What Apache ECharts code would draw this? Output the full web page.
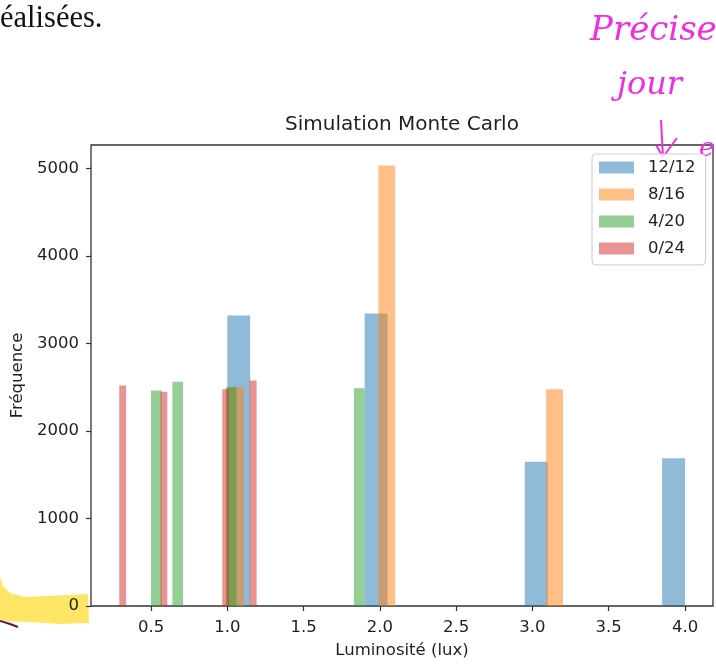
<!DOCTYPE html>
<html>
<head>
<meta charset="utf-8">
<script src="https://cdn.jsdelivr.net/npm/echarts@6/dist/echarts.min.js"></script>
<style>
  html, body { margin: 0; padding: 0; background: #ffffff; }
  #chart { width: 716px; height: 664px; }
</style>
</head>
<body>
<div id="chart"></div>
<script>
// ---- Data (histogram bins: start, end, count) ----
const seriesNames = ['12/12', '8/16', '4/20', '0/24'];

const blueStarts = [1.00, 1.90, 2.95, 3.85];
const blueEnds   = [1.15, 2.05, 3.10, 4.00];
const blueCounts = [3320, 3345, 1648, 1690];

const orangeStarts = [1.00, 1.99, 3.09];
const orangeEnds   = [1.11, 2.10, 3.20];
const orangeCounts = [2500, 5035, 2478];

const greenStarts = [0.50, 0.64, 0.99, 1.83];
const greenEnds   = [0.57, 0.71, 1.06, 1.90];
const greenCounts = [2464, 2563, 2502, 2490];

const redStarts = [0.292, 0.562, 0.967, 1.147];
const redEnds   = [0.337, 0.607, 1.012, 1.192];
const redCounts = [2521, 2449, 2479, 2578];

const xTicks = [0.5, 1.0, 1.5, 2.0, 2.5, 3.0, 3.5, 4.0];
const yTicks = [0, 1000, 2000, 3000, 4000, 5000];

// ---- Styling ----
const colors = ['rgba(31,119,180,0.5)', 'rgba(255,127,14,0.5)', 'rgba(44,160,44,0.5)', 'rgba(214,39,40,0.5)'];
const FONT = 'DejaVu Sans';
const TXT = '#1f1f1f';
const SPINE = '#333333';
const INK = '#f02ee0';

function toRows(starts, ends, counts) {
  return starts.map((s, i) => [s, ends[i], counts[i]]);
}
const allData = [
  toRows(blueStarts, blueEnds, blueCounts),
  toRows(orangeStarts, orangeEnds, orangeCounts),
  toRows(greenStarts, greenEnds, greenCounts),
  toRows(redStarts, redEnds, redCounts)
];

function renderHist(params, api) {
  const top = api.coord([api.value(0), api.value(2)]);
  const bottom = api.coord([api.value(1), 0]);
  return {
    type: 'rect',
    shape: { x: top[0], y: top[1], width: bottom[0] - top[0], height: bottom[1] - top[1] },
    style: api.style()
  };
}

const chart = echarts.init(document.getElementById('chart'), null, { renderer: 'canvas' });

const option = {
  animation: false,
  backgroundColor: '#ffffff',
  title: {
    text: 'Simulation Monte Carlo',
    left: 402,
    top: 115,
    padding: 0,
    textAlign: 'center',
    textStyle: { fontFamily: FONT, fontSize: 20, fontWeight: 'normal', color: TXT }
  },
  legend: {
    orient: 'vertical',
    left: 592,
    top: 154,
    padding: [5, 10, 8, 7],
    itemWidth: 35,
    itemHeight: 12,
    itemGap: 10,
    icon: 'rect',
    backgroundColor: 'rgba(255,255,255,0.85)',
    borderColor: '#cccccc',
    borderWidth: 1,
    borderRadius: 4,
    selectedMode: false,
    textStyle: { fontFamily: FONT, fontSize: 16.5, color: TXT, padding: [0, 0, 0, 9] },
    data: seriesNames.map((n, i) => ({ name: n, itemStyle: { color: colors[i] } }))
  },
  grid: {
    left: 91, right: 3, top: 145, bottom: 56.3,
    show: true, borderColor: SPINE, borderWidth: 1.3, backgroundColor: 'transparent'
  },
  xAxis: {
    type: 'value',
    min: 0.1067,
    max: 4.1835,
    name: 'Luminosité (lux)',
    nameLocation: 'middle',
    nameGap: 36,
    nameTextStyle: { fontFamily: FONT, fontSize: 16.5, color: TXT },
    axisLine: { show: false },
    splitLine: { show: false },
    axisTick: { show: true, length: 5, lineStyle: { color: SPINE, width: 1.2 }, customValues: xTicks },
    axisLabel: { fontFamily: FONT, fontSize: 16.5, color: TXT, margin: 13, customValues: xTicks,
                 formatter: v => v.toFixed(1) }
  },
  yAxis: {
    type: 'value',
    min: 0,
    max: 5270,
    name: 'Fréquence',
    nameLocation: 'middle',
    nameGap: 60,
    nameRotate: 90,
    nameTextStyle: { fontFamily: FONT, fontSize: 16.5, color: TXT },
    axisLine: { show: false },
    splitLine: { show: false },
    axisTick: { show: true, length: 5, lineStyle: { color: SPINE, width: 1.2 }, customValues: yTicks },
    axisLabel: { fontFamily: FONT, fontSize: 16.5, color: TXT, margin: 12, customValues: yTicks,
                 formatter: v => String(v) }
  },
  series: seriesNames.map((n, i) => ({
    name: n,
    type: 'custom',
    renderItem: renderHist,
    itemStyle: { color: colors[i] },
    encode: { x: [0, 1], y: 2 },
    data: allData[i],
    z: 2 + i
  })),
  graphic: [
    // yellow highlighter around the 0 label
    { type: 'polygon', z: -1, silent: true,
      shape: { points: [[0,577],[3,586],[10,593],[25,597],[88,594],[89,623],[60,624],[30,622],[0,621]] },
      style: { fill: '#ffe566' } },
    { type: 'bezierCurve', silent: true,
      shape: { x1: 0, y1: 621, x2: 18, y2: 627, cpx1: 8, cpy1: 623 },
      style: { stroke: '#5c1f45', lineWidth: 2, fill: null } },
    // page text above the figure
    { type: 'text', silent: true, left: 0, top: 3,
      style: { text: 'éalisées.', font: '30.5px "Liberation Serif"', fill: '#111111' } },
    // handwritten pink annotation
    { type: 'text', silent: true, x: 590, y: 14,
      style: { text: 'Préciser', font: 'italic 34px "DejaVu Serif"', fill: INK } },
    { type: 'text', silent: true, x: 617, y: 70,
      style: { text: 'jour', font: 'italic 32px "DejaVu Serif"', fill: INK } },
    { type: 'text', silent: true, x: 699, y: 136,
      style: { text: 'e', font: 'italic 26px "DejaVu Serif"', fill: INK } },
    { type: 'polyline', silent: true,
      shape: { points: [[661,120],[663,157]] },
      style: { stroke: INK, lineWidth: 2, fill: null } },
    { type: 'polyline', silent: true,
      shape: { points: [[656,145],[663,157],[677,138]] },
      style: { stroke: INK, lineWidth: 2, fill: null } }
  ]
};

chart.setOption(option);
</script>
</body>
</html>
